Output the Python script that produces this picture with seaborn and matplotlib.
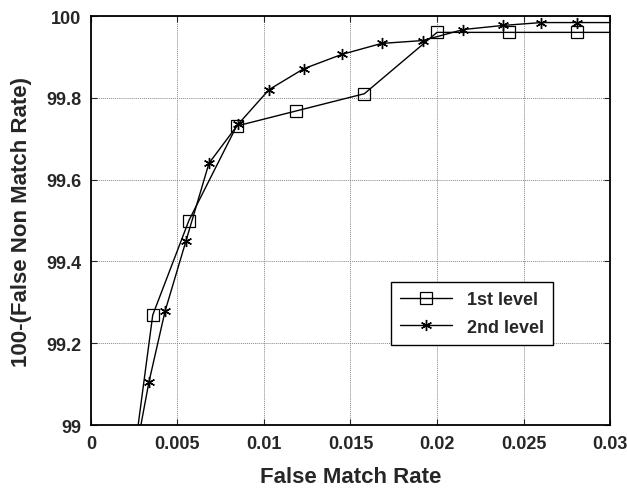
import matplotlib
matplotlib.use("Agg")
import matplotlib.pyplot as plt
import numpy as np
import pandas as pd
import seaborn as sns

# 1st level curve (square markers); first/last points sit outside the axes and get clipped
fmr_1st = [0.0021, 0.00357, 0.00566, 0.00842, 0.01187, 0.0158, 0.0200, 0.02416, 0.0281, 0.0320]
gar_1st = [98.80, 99.269, 99.50, 99.731, 99.768, 99.81, 99.96, 99.96, 99.96, 99.96]
mark_1st = [False, True, True, True, True, True, True, True, True, False]

# 2nd level curve (asterisk markers)
fmr_2nd = [0.0020, 0.00335, 0.00428, 0.00549, 0.00682, 0.0085, 0.01029, 0.01229, 0.01449,
           0.0168, 0.01917, 0.02152, 0.02383, 0.02603, 0.0281, 0.0320]
gar_2nd = [98.80, 99.105, 99.278, 99.45, 99.64, 99.735, 99.82, 99.871, 99.906,
           99.933, 99.94, 99.967, 99.977, 99.984, 99.984, 99.984]
mark_2nd = [False] + [True] * 14 + [False]

x_ticks = [0, 0.005, 0.01, 0.015, 0.02, 0.025, 0.03]
x_labels = ["0", "0.005", "0.01", "0.015", "0.02", "0.025", "0.03"]
y_ticks = [99, 99.2, 99.4, 99.6, 99.8, 100]
y_labels = ["99", "99.2", "99.4", "99.6", "99.8", "100"]

sns.set_style("ticks")
plt.rcParams["font.family"] = ["Liberation Sans", "DejaVu Sans"]
plt.rcParams["font.weight"] = "bold"

fig = plt.figure(figsize=(6.27, 4.89), dpi=100)
ax = fig.add_axes([0.1451, 0.1288, 0.8278, 0.8364])

df1 = pd.DataFrame({"fmr": fmr_1st, "gar": gar_1st})
df2 = pd.DataFrame({"fmr": fmr_2nd, "gar": gar_2nd})

sns.lineplot(data=df1, x="fmr", y="gar", sort=False, estimator=None, ax=ax,
             color="black", linewidth=1.0, marker="s", markersize=8,
             markerfacecolor="none", markeredgecolor="black", markeredgewidth=0.9,
             markevery=mark_1st, label="1st level")
sns.lineplot(data=df2, x="fmr", y="gar", sort=False, estimator=None, ax=ax,
             color="black", linewidth=1.0, marker=(6, 2, 0), markersize=8,
             markeredgecolor="black", markeredgewidth=1.0,
             markevery=mark_2nd, label="2nd level")

ax.set_xlim(0, 0.03)
ax.set_ylim(99, 100)
ax.set_xticks(x_ticks)
ax.set_xticklabels(x_labels)
ax.set_yticks(y_ticks)
ax.set_yticklabels(y_labels)
ax.tick_params(direction="in", length=4, width=0.8, labelsize=13, top=True, right=True,
               pad=7)
for lab in ax.get_xticklabels() + ax.get_yticklabels():
    lab.set_fontweight("bold")

ax.grid(True, color="#888888", linestyle=(0, (1, 1)), linewidth=0.7)
for sp in ax.spines.values():
    sp.set_linewidth(1.3)
    sp.set_color("black")

ax.set_xlabel("False Match Rate", fontsize=16, fontweight="bold", labelpad=10)
ax.set_ylabel("100-(False Non Match Rate)", fontsize=16, fontweight="bold", labelpad=10)

leg = ax.legend(loc="upper left", bbox_to_anchor=(0.578, 0.35), borderaxespad=0,
                fontsize=13, frameon=True, fancybox=False, edgecolor="black",
                framealpha=1, handlelength=2.9, borderpad=0.5, labelspacing=0.6)
leg.get_frame().set_linewidth(1.0)
for t in leg.get_texts():
    t.set_fontweight("bold")

fig.savefig("out.png", dpi=100)
